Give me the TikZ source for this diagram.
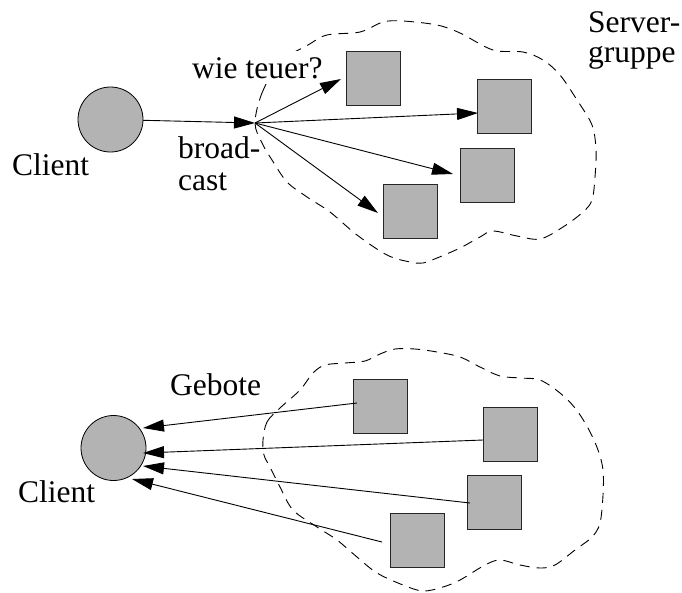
\documentclass[tikz,border=0pt]{standalone}
\usepackage{fontspec}
\setmainfont{Liberation Serif}
\usetikzlibrary{arrows.meta,calc}
\definecolor{fillgray}{RGB}{179,179,179}
\begin{document}
\begin{tikzpicture}[x=1pt,y=-1pt,
  server/.style={draw=black!85, fill=fillgray, line width=1pt, minimum width=54pt, minimum height=54pt, inner sep=0pt, outer sep=0pt},
  client/.style={circle, draw=black, fill=fillgray, line width=0.8pt, minimum size=65pt, inner sep=0pt, outer sep=0pt},
  lbl/.style={inner sep=0pt, anchor=base west, font=\fontsize{31.5}{36}\selectfont},
  arr/.style={line width=0.9pt, -{Triangle[length=21pt,width=12pt]}},
  blob/.style={line width=0.9pt, dash pattern=on 10pt off 7pt}
]
\useasboundingbox (0,0) rectangle (682,592);

% ---------- top: broadcast ----------
\draw[blob] plot[smooth cycle, tension=0.55] coordinates {
  (255,123) (262,93) (280,62) (308,45) (327,35) (360,32) (383,22) (403,21)
  (437,25) (460,33) (493,50) (523,52) (543,60) (560,75) (577,100) (592,125)
  (596,150) (595,177) (592,200) (583,212) (563,227) (540,239) (517,236)
  (493,231) (480,237) (460,248) (437,258) (423,263) (410,262) (387,255)
  (357,235) (330,212) (307,197) (287,182) (272,160) (262,143)};

\node[client] (C1) at (110.5,119.5) {};
\node[lbl] (C1l) at (12,175) {Client};
\coordinate (bc) at (255,123);

\node[server] (S1) at (373,78.5) {};
\node[server] (S2) at (504,106) {};
\node[server] (S3) at (487,175) {};
\node[server] (S4) at (410,211) {};

\node[lbl, fill=white, inner xsep=2pt, inner ysep=6pt] (q) at (190,78) {wie teuer?};
\node[lbl] (bc1) at (178,158) {broad-};
\node[lbl] (bc2) at (178,190) {cast};
\node[lbl] (sg1) at (588,32) {Server-};
\node[lbl] (sg2) at (588,62) {gruppe};

\draw[arr] (C1) -- (bc);
\draw[arr] (bc) -- ($(S1)+(-32,0.5)$);
\draw[arr] (bc) -- ($(S2)+(-26,7)$);
\draw[arr] (bc) -- ($(S3)+(-34,-1)$);
\draw[arr] (bc) -- ($(S4)+(-32,2)$);

% ---------- bottom: bids ----------
\draw[blob] plot[smooth cycle, tension=0.55] coordinates {
  (263,440) (267,422) (280,408) (300,390) (313,373) (325,365) (345,363)
  (365,361) (380,354) (395,349) (415,349) (437,352) (460,357) (480,367)
  (500,376) (520,378) (540,380) (560,393) (575,408) (588,428) (598,450)
  (603,470) (603,495) (600,523) (592,537) (575,550) (555,565) (540,568)
  (520,565) (500,560) (485,565) (460,580) (443,587) (423,591) (403,585)
  (377,573) (357,557) (337,540) (317,527) (293,510) (280,487) (270,467)
  (264,455)};

\node[client] (C2) at (113.5,448) {};
\node[lbl] (C2l) at (18,502) {Client};
\node[lbl] (geb) at (170,395) {Gebote};

\node[server] (B1) at (380,406.5) {};
\node[server] (B2) at (510,434) {};
\node[server] (B3) at (494,502.5) {};
\node[server] (B4) at (417,540) {};

\draw[arr] ($(B1)+(-23,-3.5)$) -- ($(C2)+(29.5,-20)$);
\draw[arr] ($(B2)+(-27,6)$) -- ($(C2)+(29.5,5)$);
\draw[arr] ($(B3)+(-24,0.5)$) -- ($(C2)+(29.5,18)$);
\draw[arr] ($(B4)+(-35,2)$) -- ($(C2)+(18.5,31)$);
\end{tikzpicture}
\end{document}
